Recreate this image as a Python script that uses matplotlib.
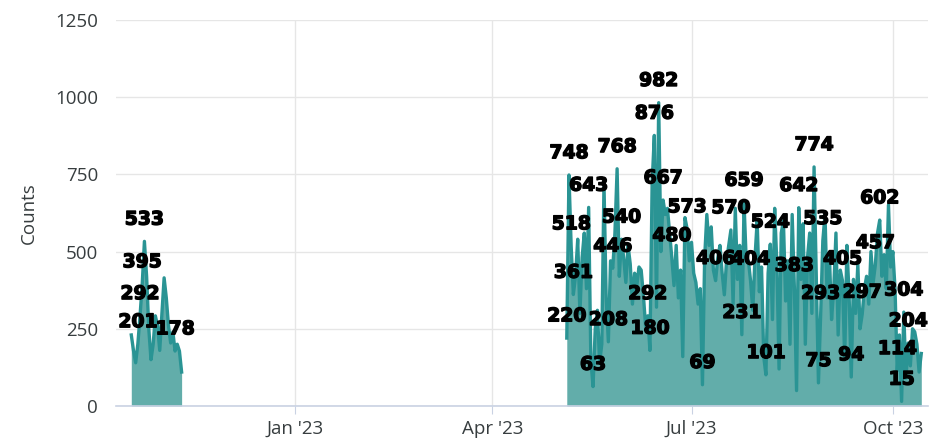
import numpy as np
import pandas as pd
import matplotlib.pyplot as plt
import matplotlib.patheffects as pe

# daily counts, two observation periods
start_a = "2022-10-18"
counts_a = [230, 180, 140, 201, 292, 395, 533, 420, 250, 150, 200, 292,
            260, 180, 300, 415, 350, 260, 204, 240, 178, 200, 178, 110]
labels_a = [3, 4, 5, 6, 20]

start_b = "2023-05-05"
counts_b = [220, 748, 518, 361, 420, 540, 300, 480, 560, 380, 643, 150, 63, 250, 310, 140,
            200, 720, 350, 208, 470, 446, 560, 768, 420, 540, 480, 400, 520, 460, 330, 430,
            390, 450, 440, 360, 260, 292, 180, 720, 876, 320, 982, 500, 667, 620, 640, 560,
            480, 390, 520, 350, 440, 160, 610, 573, 470, 530, 430, 400, 330, 380, 69, 480,
            620, 520, 580, 440, 406, 480, 520, 430, 360, 470, 520, 570, 330, 640, 410, 520,
            231, 659, 470, 470, 404, 310, 480, 600, 370, 450, 160, 101, 430, 524, 280, 640,
            460, 120, 560, 600, 340, 470, 200, 620, 383, 50, 642, 410, 590, 200, 480, 560,
            300, 774, 430, 75, 293, 535, 620, 350, 490, 280, 380, 560, 230, 440, 405, 150,
            520, 360, 94, 410, 300, 460, 250, 297, 380, 420, 330, 500, 400, 457, 560, 602,
            420, 490, 380, 651, 450, 500, 380, 114, 230, 15, 304, 90, 204, 130, 250, 240,
            200, 110, 170]
labels_b = [0, 1, 2, 3, 10, 12, 19, 21, 23, 25, 37, 38, 40, 42, 44, 48, 55, 62, 68, 75,
            80, 81, 84, 91, 93, 104, 106, 113, 115, 116, 117, 126, 130, 135, 141, 143,
            151, 153, 154, 156]

yticks = [0, 250, 500, 750, 1000, 1250]
xticks = ["2023-01-01", "2023-04-01", "2023-07-01", "2023-10-01"]
xtick_labels = ["Jan '23", "Apr '23", "Jul '23", "Oct '23"]

line_col = "#2a9494"
fill_col = "#62adaa"

fig = plt.figure(figsize=(9.3, 4.43), dpi=100)
ax = fig.add_axes([0.1247, 0.0835, 0.873, 0.8715])

heavy = [pe.withStroke(linewidth=1.0, foreground="black")]
for start, counts, lab in [(start_a, counts_a, labels_a), (start_b, counts_b, labels_b)]:
    dates = pd.date_range(start, periods=len(counts), freq="D")
    ax.fill_between(dates, counts, 0, color=fill_col, lw=0, zorder=2)
    ax.plot(dates, counts, color=line_col, lw=2.4, zorder=3)
    for i in lab:
        ax.annotate(str(counts[i]), (dates[i], counts[i]), xytext=(0, 16),
                    textcoords="offset points", ha="center", va="center",
                    fontsize=13.5, fontweight="bold", family="DejaVu Sans",
                    color="black", zorder=5, path_effects=heavy)

ax.set_ylim(0, 1250)
ax.set_xlim(pd.Timestamp("2022-10-11"), pd.Timestamp("2023-10-17"))
ax.set_yticks(yticks)
ax.set_yticklabels([str(v) for v in yticks])
ax.set_xticks([pd.Timestamp(d) for d in xticks])
ax.set_xticklabels(xtick_labels)

ax.grid(True, color="#e6e6e6", lw=1, zorder=0)
ax.set_axisbelow(True)
for s in ["left", "right", "top"]:
    ax.spines[s].set_visible(False)
ax.spines["bottom"].set_color("#c9d2e3")
ax.spines["bottom"].set_linewidth(1.2)
ax.tick_params(axis="y", length=0, pad=13, labelsize=13.5, labelcolor="#373d3f")
ax.tick_params(axis="x", length=6, color="#c9d2e3", pad=4, labelsize=13.5, labelcolor="#373d3f")
for t in ax.get_xticklabels() + ax.get_yticklabels():
    t.set_family("Open Sans")
ax.set_ylabel("Counts", fontsize=13.5, color="#373d3f", family="Open Sans", labelpad=12)

fig.savefig("out.png", dpi=100)
